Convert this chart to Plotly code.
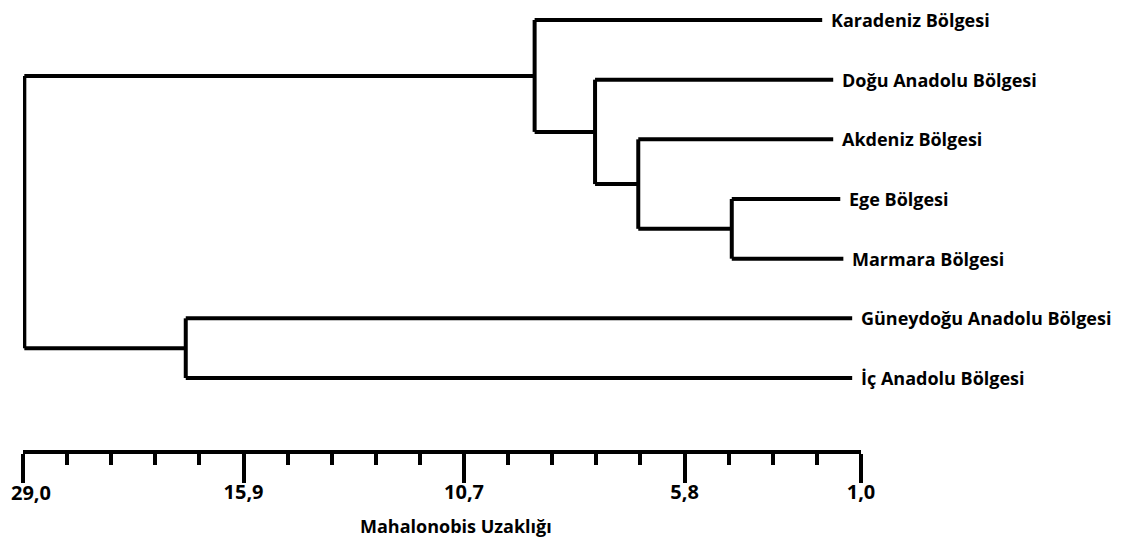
import plotly.graph_objects as go

# ---- data ----
regions = [
    "Karadeniz Bölgesi",
    "Doğu Anadolu Bölgesi",
    "Akdeniz Bölgesi",
    "Ege Bölgesi",
    "Marmara Bölgesi",
    "Güneydoğu Anadolu Bölgesi",
    "İç Anadolu Bölgesi",
]
# level (in axis steps) where each leaf branch ends
leaf_level = [18.12, 18.37, 18.37, 18.53, 18.60, 18.80, 18.80]
# linkage: node ids 0-6 are leaves, merges create nodes 7, 8, ...
merge_left = [3, 2, 1, 0, 5, 10]
merge_right = [4, 7, 8, 9, 6, 11]
merge_level = [16.07, 13.95, 12.97, 11.60, 3.69, 0.03]
# axis tick labels (Mahalonobis distance) at axis steps
tick_steps = [0, 5, 10, 15, 19]
tick_labels = ["29,0", "15,9", "10,7", "5,8", "1,0"]
axis_title = "Mahalonobis Uzaklığı"

# ---- build dendrogram segments ----
n = len(regions)
node_x = {i: leaf_level[i] for i in range(n)}
node_y = {i: float(i) for i in range(n)}
xs, ys = [], []
for k, (a, b, lev) in enumerate(zip(merge_left, merge_right, merge_level)):
    nid = n + k
    ya, yb = node_y[a], node_y[b]
    xs += [lev, lev, None]
    ys += [ya, yb, None]
    xs += [lev, node_x[a], None, lev, node_x[b], None]
    ys += [ya, ya, None, yb, yb, None]
    node_x[nid] = lev
    node_y[nid] = (ya + yb) / 2

FONT = "Open Sans"
BOLD = 700
fig = go.Figure()
fig.add_trace(go.Scatter(
    x=xs, y=ys, mode="lines",
    line=dict(color="black", width=4),
    hoverinfo="skip", showlegend=False, cliponaxis=False,
))

for i, name in enumerate(regions):
    fig.add_annotation(
        x=leaf_level[i], y=i, xref="x", yref="y",
        text=name, showarrow=False, xanchor="left", yanchor="middle",
        xshift=8, borderpad=0,
        font=dict(family=FONT, size=18, color="black", weight=BOLD),
    )

# page body has a default 8px margin; compensate so screen positions match
OFF = 8
W, H = 1128, 542
left_px, right_px = 23 - OFF, 861 - OFF
top_px, bottom_px = 10 - OFF, 450 - OFF
y0_px, y6_px = 20 - OFF, 378 - OFF
step = (y6_px - y0_px) / (n - 1)
y_top = -(y0_px - top_px) / step
y_bot = (n - 1) + (bottom_px - y6_px) / step

# axis title
fig.add_annotation(
    x=9.82, y=0, xref="x", yref="paper", yshift=-(526 - 450),
    text=axis_title, showarrow=False, xanchor="center", yanchor="middle",
    font=dict(family=FONT, size=18, color="black", weight=BOLD),
)
# first tick label sits right of its tick (kept inside the picture)
fig.add_annotation(
    x=tick_steps[0], y=0, xref="x", yref="paper", yshift=-(492 - 450),
    text=tick_labels[0], showarrow=False, xanchor="left", yanchor="middle",
    xshift=-14, font=dict(family=FONT, size=20, color="black", weight=BOLD),
)

fig.update_layout(
    width=W, height=H,
    margin=dict(l=left_px, r=W - right_px, t=top_px, b=H - bottom_px,
                autoexpand=False),
    paper_bgcolor="white", plot_bgcolor="white",
    xaxis=dict(
        range=[0, 19], showgrid=False, zeroline=False, automargin=False,
        showline=True, linecolor="black", linewidth=4,
        tickmode="array", tickvals=tick_steps,
        ticktext=[""] + tick_labels[1:],
        ticks="outside", ticklen=29, tickwidth=4, tickcolor="black",
        ticklabelstandoff=-8,
        tickfont=dict(family=FONT, size=20, color="black", weight=BOLD),
        minor=dict(tick0=0, dtick=1, ticks="outside", ticklen=11,
                   tickwidth=4, tickcolor="black"),
    ),
    yaxis=dict(range=[y_bot, y_top], visible=False, automargin=False),
)

fig.write_html("out.html")
